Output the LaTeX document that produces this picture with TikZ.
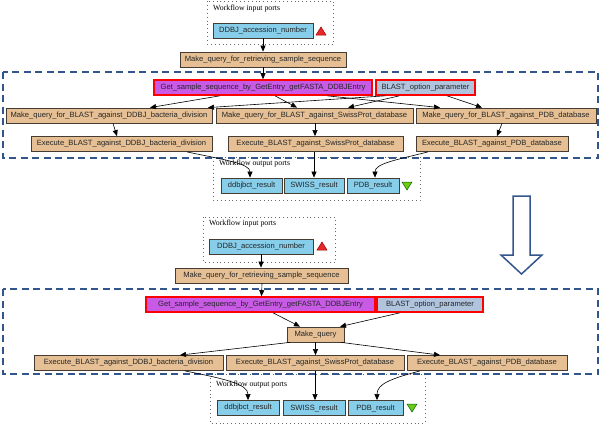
\documentclass[tikz,border=0pt]{standalone}
\usepackage{fontspec}
\setmainfont{Liberation Serif}
\newfontfamily\boxfont{Liberation Sans}
\usetikzlibrary{arrows.meta}
\definecolor{tanc}{RGB}{230,192,148}
\definecolor{skyc}{RGB}{135,206,235}
\definecolor{steelc}{RGB}{176,196,222}
\definecolor{orchc}{RGB}{200,90,230}
\definecolor{dblue}{RGB}{50,85,140}
\definecolor{brd}{RGB}{70,60,50}
\definecolor{trired}{RGB}{230,40,40}
\definecolor{trigreen}{RGB}{110,200,20}
\begin{document}
\begin{tikzpicture}[x=1pt,y=-1pt,
 box/.style={draw=brd, line width=0.8pt, minimum height=15pt, inner sep=0pt, font=\boxfont\fontsize{7.6}{8}\selectfont, text=black!85},
 proc/.style={box, fill=tanc},
 port/.style={box, fill=skyc},
 sel/.style={box, draw=red, line width=1.6pt},
 grp/.style={draw=dblue, line width=1.6pt, dash pattern=on 7pt off 4.5pt},
 portgrp/.style={draw=black!60, line width=0.9pt, dash pattern=on 0.9pt off 3pt},
 lbl/.style={font=\fontsize{7.8}{9}\selectfont, anchor=west, inner sep=0pt},
 conn/.style={draw=black, line width=0.6pt, -{Triangle[length=6pt,width=5pt]}},
]
\useasboundingbox (0,0) rectangle (600,424);

% ---------------- top version ----------------
\draw[portgrp] (207,1) rectangle (333,44);
\node[lbl] (inlbl1) at (213,9) {Workflow input ports};
\draw[portgrp] (213,157) rectangle (420,200);
\node[lbl] (outlbl1) at (219,164) {Workflow output ports};
\draw[grp] (3,72) rectangle (598,158);

\node[port, minimum width=100pt] (din1) at (263,30.5) {DDBJ\_accession\_number};
\draw[draw=red!60!black, fill=trired, line width=0.5pt] (316,35) -- (326,35) -- (321,27) -- cycle;
\node[proc, minimum width=166pt] (mqr1) at (263,59.5) {Make\_query\_for\_retrieving\_sample\_sequence};
\node[sel, fill=orchc, minimum width=218pt] (get1) at (263,87.5) {Get\_sample\_sequence\_by\_GetEntry\_getFASTA\_DDBJEntry};
\node[sel, fill=steelc, minimum width=99pt] (blast1) at (425.5,87.5) {BLAST\_option\_parameter};
\node[proc, minimum width=206pt] (mqd1) at (109,115.5) {Make\_query\_for\_BLAST\_against\_DDBJ\_bacteria\_division};
\node[proc, minimum width=197pt] (mqs1) at (314.5,115.5) {Make\_query\_for\_BLAST\_against\_SwissProt\_database};
\node[proc, minimum width=180pt] (mqp1) at (506,115.5) {Make\_query\_for\_BLAST\_against\_PDB\_database};
\node[proc, minimum width=181pt] (exd1) at (121.5,144) {Execute\_BLAST\_against\_DDBJ\_bacteria\_division};
\node[proc, minimum width=175pt] (exs1) at (315.5,144) {Execute\_BLAST\_against\_SwissProt\_database};
\node[proc, minimum width=152pt] (exp1) at (492,144) {Execute\_BLAST\_against\_PDB\_database};
\node[port, minimum width=61pt] (ob1) at (251.5,185.5) {ddbjbct\_result};
\node[port, minimum width=60pt] (os1) at (314,185.5) {SWISS\_result};
\node[port, minimum width=52pt] (op1) at (373,185.5) {PDB\_result};
\draw[draw=green!40!black, fill=trigreen, line width=0.5pt] (402,182) -- (412,182) -- (407,190) -- cycle;

\draw[conn] (din1.south) -- (mqr1.north);
\draw[conn] (mqr1.south) -- (get1.north);
\draw[conn] ([xshift=-43pt]get1.south) -- ([xshift=41pt]mqd1.north);
\draw[conn] ([xshift=12pt]get1.south) -- ([xshift=-17.5pt]mqs1.north);
\draw[conn] ([xshift=64pt]get1.south) -- ([xshift=-66pt]mqp1.north);
\draw[conn] ([xshift=-40pt]blast1.south) -- ([xshift=99pt]mqd1.north);
\draw[conn] ([xshift=-26pt]blast1.south) -- ([xshift=33.5pt]mqs1.north);
\draw[conn] ([xshift=21.5pt]blast1.south) -- ([xshift=-24pt]mqp1.north);
\draw[conn] ([xshift=4pt]mqd1.south) -- ([xshift=-4.5pt]exd1.north);
\draw[conn] ([xshift=0.5pt]mqs1.south) -- ([xshift=-0.5pt]exs1.north);
\draw[conn] ([xshift=-4pt]mqp1.south) -- ([xshift=5pt]exp1.north);
\draw[conn] ([xshift=65.5pt]exd1.south) .. controls +(38,8) and +(0,-14) .. ([xshift=-1.5pt]ob1.north);
\draw[conn] ([xshift=-1.5pt]exs1.south) -- (os1.north);
\draw[conn] ([xshift=-64pt]exp1.south) .. controls +(-32,8) and +(0,-14) .. ([xshift=2pt]op1.north);

% ---------------- big arrow ----------------
\draw[dblue, line width=1.5pt, fill=white] (513,196) -- (530,196) -- (530,255) -- (542,255) -- (521.5,274) -- (501,255) -- (513,255) -- cycle;

% ---------------- bottom version ----------------
\draw[portgrp] (203,217) rectangle (335,262);
\node[lbl] (inlbl2) at (209,224) {Workflow input ports};
\draw[portgrp] (210,374) rectangle (425,423);
\node[lbl] (outlbl2) at (216,385) {Workflow output ports};
\draw[grp] (3,289) rectangle (598,374);

\node[port, minimum width=104pt] (din2) at (261,246.5) {DDBJ\_accession\_number};
\draw[draw=red!60!black, fill=trired, line width=0.5pt] (317,250) -- (327,250) -- (322,242) -- cycle;
\node[proc, minimum width=173pt] (mqr2) at (261.5,275.5) {Make\_query\_for\_retrieving\_sample\_sequence};
\node[sel, fill=orchc, minimum width=229pt] (get2) at (260.5,304.5) {Get\_sample\_sequence\_by\_GetEntry\_getFASTA\_DDBJEntry};
\node[sel, fill=steelc, minimum width=106pt] (blast2) at (430,304.5) {BLAST\_option\_parameter};
\node[proc, minimum width=57pt] (mq2) at (315.5,334.5) {Make\_query};
\node[proc, minimum width=189pt] (exd2) at (128.5,363) {Execute\_BLAST\_against\_DDBJ\_bacteria\_division};
\node[proc, minimum width=178pt] (exs2) at (315,363) {Execute\_BLAST\_against\_SwissProt\_database};
\node[proc, minimum width=160pt] (exp2) at (487,363) {Execute\_BLAST\_against\_PDB\_database};
\node[port, minimum width=62pt] (ob2) at (248,408) {ddbjbct\_result};
\node[port, minimum width=62pt] (os2) at (314,408) {SWISS\_result};
\node[port, minimum width=55pt] (op2) at (375.5,408) {PDB\_result};
\draw[draw=green!40!black, fill=trigreen, line width=0.5pt] (407,404) -- (417,404) -- (412,412) -- cycle;

\draw[conn] (din2.south) -- ([xshift=-0.5pt]mqr2.north);
\draw[conn] ([xshift=0.5pt]mqr2.south) -- ([xshift=1pt]get2.north);
\draw[conn] ([xshift=12.5pt]get2.south) -- ([xshift=-15.5pt]mq2.north);
\draw[conn] ([xshift=-30pt]blast2.south) -- ([xshift=24.5pt]mq2.north);
\draw[conn] ([xshift=3pt]mq2.south west) -- ([xshift=51.5pt]exd2.north);
\draw[conn] (mq2.south) -- ([xshift=0.5pt]exs2.north);
\draw[conn] ([xshift=-3pt]mq2.south east) -- ([xshift=-47pt]exp2.north);
\draw[conn] ([xshift=56.5pt]exd2.south) .. controls +(40,8) and +(0,-16) .. (ob2.north);
\draw[conn] (exs2.south) -- ([xshift=1pt]os2.north);
\draw[conn] ([xshift=-67pt]exp2.south) .. controls +(-30,8) and +(0,-16) .. ([xshift=1.5pt]op2.north);
\end{tikzpicture}
\end{document}
